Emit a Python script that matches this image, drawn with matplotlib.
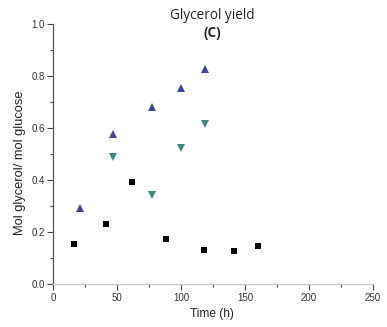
import matplotlib
matplotlib.use("Agg")
import matplotlib.pyplot as plt
from matplotlib.ticker import MultipleLocator

# glycerol yield vs time, three series
time_sq = [16, 41, 62, 88, 118, 141, 160]
yield_sq = [0.154, 0.232, 0.395, 0.173, 0.131, 0.128, 0.147]

time_up = [21, 47, 77, 100, 119]
yield_up = [0.295, 0.577, 0.683, 0.755, 0.830]

time_down = [47, 77, 100, 119]
yield_down = [0.491, 0.342, 0.525, 0.615]

plt.rcParams['font.family'] = ['Liberation Sans', 'DejaVu Sans']

fig = plt.figure(figsize=(3.87, 3.27), dpi=100)
ax = fig.add_axes([0.137, 0.1306, 0.827, 0.795])

ax.plot(time_sq, yield_sq, 's', color='black', markersize=4.5, markeredgewidth=0)
ax.plot(time_up, yield_up, '^', color='#3b4896', markersize=5.5, markeredgewidth=0)
ax.plot(time_down, yield_down, 'v', color='#3a8a82', markersize=5.5, markeredgewidth=0)

ax.set_xlim(0, 250)
ax.set_ylim(0, 1.0)
ax.xaxis.set_major_locator(MultipleLocator(50))
ax.xaxis.set_minor_locator(MultipleLocator(25))
ax.yaxis.set_major_locator(MultipleLocator(0.2))
ax.yaxis.set_minor_locator(MultipleLocator(0.1))
ax.yaxis.set_major_formatter(plt.FormatStrFormatter('%.1f'))

for side in ['top', 'right']:
    ax.spines[side].set_visible(False)
ax.spines['left'].set_color('#555555')
ax.spines['left'].set_linewidth(0.9)
ax.spines['bottom'].set_color('#cccccc')
ax.spines['bottom'].set_linewidth(0.9)

ax.tick_params(which='major', direction='out', length=4, width=0.8, color='#444444',
               labelsize=7, labelcolor='#333333', pad=2)
ax.tick_params(which='minor', direction='out', length=2, width=0.8, color='#444444')

ax.set_xlabel('Time (h)', fontsize=8.6, color='#222222', va='center')
ax.set_ylabel('Mol glycerol/ mol glucose', fontsize=9.3, color='#222222', va='center')
ax.xaxis.set_label_coords(0.495, -0.114)
ax.yaxis.set_label_coords(-0.103, 0.468)

fig.text(0.548, 0.953, 'Glycerol yield', ha='center', va='center', fontsize=9.8,
         family=['Open Sans', 'DejaVu Sans'], color='#222222')
fig.text(0.549, 0.899, '(C)', ha='center', va='center', fontsize=9.8, fontweight='bold',
         family=['Open Sans', 'DejaVu Sans'], color='#222222')

fig.savefig('out.png', dpi=100)
